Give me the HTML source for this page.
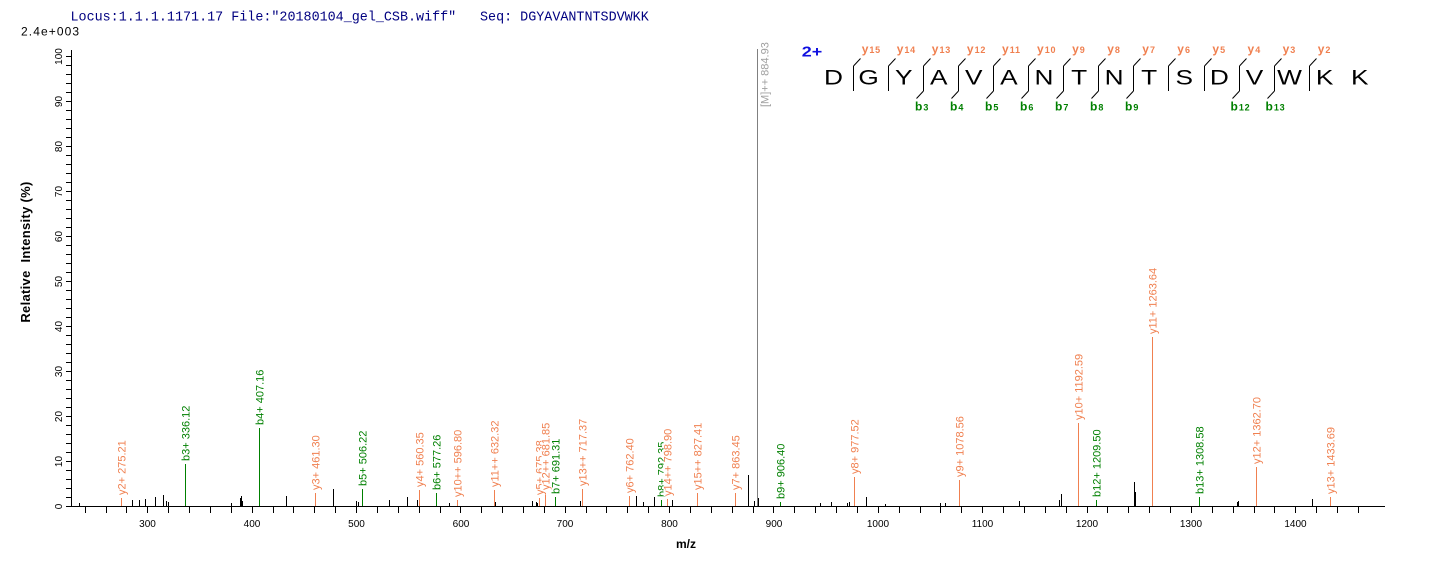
<!DOCTYPE html>
<html>
<head>
<meta charset="utf-8">
<style>
html,body{margin:0;padding:0;background:#fff;}
svg{display:block;}
</style>
</head>
<body>
<svg width="1436" height="566" viewBox="0 0 1436 566" xmlns="http://www.w3.org/2000/svg" font-family="'Liberation Sans', Arial, sans-serif">
<rect width="1436" height="566" fill="#fff"/>

<!-- header -->
<text x="70.5" y="20.5" font-family="'Liberation Mono', monospace" font-size="13.4" fill="#000080">Locus:1.1.1.1171.17 File:"20180104_gel_CSB.wiff"</text>
<text x="480" y="20.5" font-family="'Liberation Mono', monospace" font-size="13.4" fill="#000080">Seq: DGYAVANTNTSDVWKK</text>
<text x="21" y="35.3" font-size="12" letter-spacing="1.1" fill="#000">2.4e+003</text>

<!-- axes -->
<g stroke="#000" stroke-width="1" fill="none" shape-rendering="crispEdges">
<path d="M71.5 50V507M71 506.5H1385"/>
<path d="M66 506.5h5M66 497.5h5M66 488.5h5M66 479.5h5M66 470.5h5M66 461.5h5M66 452.5h5M66 443.5h5M66 434.5h5M66 425.5h5M66 416.5h5M66 407.5h5M66 398.5h5M66 389.5h5M66 380.5h5M66 371.5h5M66 362.5h5M66 353.5h5M66 344.5h5M66 335.5h5M66 326.5h5M66 317.5h5M66 308.5h5M66 299.5h5M66 290.5h5M66 281.5h5M66 272.5h5M66 263.5h5M66 254.5h5M66 245.5h5M66 236.5h5M66 227.5h5M66 218.5h5M66 209.5h5M66 200.5h5M66 191.5h5M66 182.5h5M66 173.5h5M66 164.5h5M66 155.5h5M66 146.5h5M66 137.5h5M66 128.5h5M66 119.5h5M66 110.5h5M66 101.5h5M66 92.5h5M66 83.5h5M66 74.5h5M66 65.5h5M66 56.5h5"/>
<path d="M85.5 507v6M106.5 507v6M126.5 507v6M147.5 507v6M168.5 507v6M189.5 507v6M210.5 507v6M231.5 507v6M252.5 507v6M273.5 507v6M293.5 507v6M314.5 507v6M335.5 507v6M356.5 507v6M377.5 507v6M398.5 507v6M419.5 507v6M440.5 507v6M460.5 507v6M481.5 507v6M502.5 507v6M523.5 507v6M544.5 507v6M565.5 507v6M586.5 507v6M606.5 507v6M627.5 507v6M648.5 507v6M669.5 507v6M690.5 507v6M711.5 507v6M732.5 507v6M753.5 507v6M773.5 507v6M794.5 507v6M815.5 507v6M836.5 507v6M857.5 507v6M878.5 507v6M899.5 507v6M920.5 507v6M940.5 507v6M961.5 507v6M982.5 507v6M1003.5 507v6M1024.5 507v6M1045.5 507v6M1066.5 507v6M1087.5 507v6M1107.5 507v6M1128.5 507v6M1149.5 507v6M1170.5 507v6M1191.5 507v6M1212.5 507v6M1233.5 507v6M1254.5 507v6M1274.5 507v6M1295.5 507v6M1316.5 507v6M1337.5 507v6M1358.5 507v6"/>
</g>

<!-- x tick labels -->
<g font-size="10" fill="#000" text-anchor="middle">
<text x="147.5" y="527">300</text>
<text x="252" y="527">400</text>
<text x="356.5" y="527">500</text>
<text x="461" y="527">600</text>
<text x="565" y="527">700</text>
<text x="669.5" y="527">800</text>
<text x="774" y="527">900</text>
<text x="878" y="527">1000</text>
<text x="982.5" y="527">1100</text>
<text x="1087" y="527">1200</text>
<text x="1191" y="527">1300</text>
<text x="1295.5" y="527">1400</text>
</g>

<!-- y tick labels -->
<g font-size="10" fill="#000" text-anchor="middle">
<text transform="translate(62,506.5) rotate(-90)">0</text>
<text transform="translate(62,461.5) rotate(-90)">10</text>
<text transform="translate(62,416.5) rotate(-90)">20</text>
<text transform="translate(62,371.5) rotate(-90)">30</text>
<text transform="translate(62,326.5) rotate(-90)">40</text>
<text transform="translate(62,281.5) rotate(-90)">50</text>
<text transform="translate(62,236.5) rotate(-90)">60</text>
<text transform="translate(62,191.5) rotate(-90)">70</text>
<text transform="translate(62,146.5) rotate(-90)">80</text>
<text transform="translate(62,101.5) rotate(-90)">90</text>
<text transform="translate(62,56.5) rotate(-90)">100</text>
</g>

<text transform="translate(30,252) rotate(-90)" font-size="13" font-weight="bold" letter-spacing="0.3" text-anchor="middle" fill="#000" xml:space="preserve">Relative  Intensity (%)</text>
<text x="686" y="548" font-size="12" font-weight="bold" text-anchor="middle" fill="#000">m/z</text>

<!-- noise peaks -->
<g stroke="#000" stroke-width="1" shape-rendering="crispEdges">
<path d="M79.5 506V503M132.5 506V500M139.5 506V500M145.5 506V499M155.5 506V497M163.5 506V495M166.5 506V501M168.5 506V502M231.5 506V503M240.5 506V498M241.5 506V496M242.5 506V501M286.5 506V496M333.5 506V489M356.5 506V501M358.5 506V502M389.5 506V500M407.5 506V497M417.5 506V500M449.5 506V503M495.5 506V502M532.5 506V501M536.5 506V502M537.5 506V503M580.5 506V501M636.5 506V496M643.5 506V502M654.5 506V497M672.5 506V500M748.5 506V475M754.5 506V501M758.5 506V498M820.5 506V503M831.5 506V502M847.5 506V503M849.5 506V502M866.5 506V497M885.5 506V504M940.5 506V503M945.5 506V503M1019.5 506V501M1059.5 506V500M1061.5 506V494M1134.5 506V482M1135.5 506V492M1237.5 506V502M1238.5 506V501M1312.5 506V499"/>
</g>

<!-- [M]++ -->
<path d="M757.5 506V49" stroke="#808080" stroke-width="1" shape-rendering="crispEdges"/>
<text transform="translate(768.5,107) rotate(-90)" font-size="11" fill="#a0a0a0">[M]++ 884.93</text>

<!-- y ion peaks -->
<g stroke="#f08050" stroke-width="1" shape-rendering="crispEdges">
<path d="M121.5 506V498M315.5 506V493M419.5 506V490M457.5 506V500M494.5 506V490M539.5 506V498M545.5 506V493M582.5 506V489M629.5 506V496M667.5 506V499M697.5 506V493M735.5 506V493M854.5 506V477M959.5 506V480M1078.5 506V423M1152.5 506V337M1256.5 506V467M1330.5 506V497"/>
</g>
<!-- b ion peaks -->
<g stroke="#008000" stroke-width="1" shape-rendering="crispEdges">
<path d="M185.5 506V464M259.5 506V428M362.5 506V489M436.5 506V493M555.5 506V497M661.5 506V500M780.5 506V502M1096.5 506V500M1199.5 506V497"/>
</g>

<!-- peak labels -->
<g font-size="11">
<rect x="117.5" y="435" width="10" height="60" fill="#fff"/><text transform="translate(125.5,495) rotate(-90)" fill="#f08050">y2+ 275.21</text>
<rect x="181.5" y="401" width="10" height="60" fill="#fff"/><text transform="translate(189.5,461) rotate(-90)" fill="#008000">b3+ 336.12</text>
<rect x="255.5" y="365" width="10" height="60" fill="#fff"/><text transform="translate(263.5,425) rotate(-90)" fill="#008000">b4+ 407.16</text>
<rect x="311.5" y="430" width="10" height="60" fill="#fff"/><text transform="translate(319.5,490) rotate(-90)" fill="#f08050">y3+ 461.30</text>
<rect x="358.5" y="426" width="10" height="60" fill="#fff"/><text transform="translate(366.5,486) rotate(-90)" fill="#008000">b5+ 506.22</text>
<rect x="415.5" y="427" width="10" height="60" fill="#fff"/><text transform="translate(423.5,487) rotate(-90)" fill="#f08050">y4+ 560.35</text>
<rect x="432.5" y="430" width="10" height="60" fill="#fff"/><text transform="translate(440.5,490) rotate(-90)" fill="#008000">b6+ 577.26</text>
<rect x="453.5" y="425" width="10" height="72" fill="#fff"/><text transform="translate(461.5,497) rotate(-90)" fill="#f08050">y10++ 596.80</text>
<rect x="490.5" y="415" width="10" height="72" fill="#fff"/><text transform="translate(498.5,487) rotate(-90)" fill="#f08050">y11++ 632.32</text>
<rect x="535.5" y="435" width="10" height="60" fill="#fff"/><text transform="translate(543.5,495) rotate(-90)" fill="#f08050">y5+ 675.38</text>
<rect x="541.5" y="418" width="10" height="72" fill="#fff"/><text transform="translate(549.5,490) rotate(-90)" fill="#f08050">y12++ 681.85</text>
<rect x="551.5" y="434" width="10" height="60" fill="#fff"/><text transform="translate(559.5,494) rotate(-90)" fill="#008000">b7+ 691.31</text>
<rect x="578.5" y="414" width="10" height="72" fill="#fff"/><text transform="translate(586.5,486) rotate(-90)" fill="#f08050">y13++ 717.37</text>
<rect x="625.5" y="433" width="10" height="60" fill="#fff"/><text transform="translate(633.5,493) rotate(-90)" fill="#f08050">y6+ 762.40</text>
<rect x="657.5" y="437" width="10" height="60" fill="#fff"/><text transform="translate(665.5,497) rotate(-90)" fill="#008000">b8+ 792.35</text>
<rect x="663.5" y="424" width="10" height="72" fill="#fff"/><text transform="translate(671.5,496) rotate(-90)" fill="#f08050">y14++ 798.90</text>
<rect x="693.5" y="418" width="10" height="72" fill="#fff"/><text transform="translate(701.5,490) rotate(-90)" fill="#f08050">y15++ 827.41</text>
<rect x="731.5" y="430" width="10" height="60" fill="#fff"/><text transform="translate(739.5,490) rotate(-90)" fill="#f08050">y7+ 863.45</text>
<rect x="776.5" y="439" width="10" height="60" fill="#fff"/><text transform="translate(784.5,499) rotate(-90)" fill="#008000">b9+ 906.40</text>
<rect x="850.5" y="414" width="10" height="60" fill="#fff"/><text transform="translate(858.5,474) rotate(-90)" fill="#f08050">y8+ 977.52</text>
<rect x="955.5" y="411" width="10" height="66" fill="#fff"/><text transform="translate(963.5,477) rotate(-90)" fill="#f08050">y9+ 1078.56</text>
<rect x="1074.5" y="348" width="10" height="72" fill="#fff"/><text transform="translate(1082.5,420) rotate(-90)" fill="#f08050">y10+ 1192.59</text>
<rect x="1092.5" y="425" width="10" height="72" fill="#fff"/><text transform="translate(1100.5,497) rotate(-90)" fill="#008000">b12+ 1209.50</text>
<rect x="1148.5" y="262" width="10" height="72" fill="#fff"/><text transform="translate(1156.5,334) rotate(-90)" fill="#f08050">y11+ 1263.64</text>
<rect x="1195.5" y="422" width="10" height="72" fill="#fff"/><text transform="translate(1203.5,494) rotate(-90)" fill="#008000">b13+ 1308.58</text>
<rect x="1252.5" y="392" width="10" height="72" fill="#fff"/><text transform="translate(1260.5,464) rotate(-90)" fill="#f08050">y12+ 1362.70</text>
<rect x="1326.5" y="422" width="10" height="72" fill="#fff"/><text transform="translate(1334.5,494) rotate(-90)" fill="#f08050">y13+ 1433.69</text>
</g>

<!-- sequence diagram -->
<g transform="translate(801.7,56.3) scale(1.2,1)"><text font-size="15" font-weight="bold" fill="#1010e0">2+</text></g>

<g font-size="21" fill="#000" text-anchor="middle">
<g transform="translate(833.5,84.7) scale(1.25,1)"><text>D</text></g>
<g transform="translate(868.6,84.7) scale(1.25,1)"><text>G</text></g>
<g transform="translate(903.7,84.7) scale(1.25,1)"><text>Y</text></g>
<g transform="translate(938.7,84.7) scale(1.25,1)"><text>A</text></g>
<g transform="translate(973.8,84.7) scale(1.25,1)"><text>V</text></g>
<g transform="translate(1008.9,84.7) scale(1.25,1)"><text>A</text></g>
<g transform="translate(1044,84.7) scale(1.25,1)"><text>N</text></g>
<g transform="translate(1079.1,84.7) scale(1.25,1)"><text>T</text></g>
<g transform="translate(1114.1,84.7) scale(1.25,1)"><text>N</text></g>
<g transform="translate(1149.2,84.7) scale(1.25,1)"><text>T</text></g>
<g transform="translate(1184.3,84.7) scale(1.25,1)"><text>S</text></g>
<g transform="translate(1219.4,84.7) scale(1.25,1)"><text>D</text></g>
<g transform="translate(1254.5,84.7) scale(1.25,1)"><text>V</text></g>
<g transform="translate(1289.5,84.7) scale(1.25,1)"><text>W</text></g>
<g transform="translate(1324.6,84.7) scale(1.25,1)"><text>K</text></g>
<g transform="translate(1359.7,84.7) scale(1.25,1)"><text>K</text></g>
</g>

<g stroke="#000" stroke-width="1" fill="none">
<path d="M853.5 66V91M853.5 66l7 -7.5"/>
<path d="M888.5 66V91M888.5 66l7 -7.5"/>
<path d="M923.5 66V91M923.5 66l7 -7.5M923.5 91l-7 7.5"/>
<path d="M958.5 66V91M958.5 66l7 -7.5M958.5 91l-7 7.5"/>
<path d="M993.5 66V91M993.5 66l7 -7.5M993.5 91l-7 7.5"/>
<path d="M1028.5 66V91M1028.5 66l7 -7.5M1028.5 91l-7 7.5"/>
<path d="M1063.5 66V91M1063.5 66l7 -7.5M1063.5 91l-7 7.5"/>
<path d="M1098.5 66V91M1098.5 66l7 -7.5M1098.5 91l-7 7.5"/>
<path d="M1133.5 66V91M1133.5 66l7 -7.5M1133.5 91l-7 7.5"/>
<path d="M1168.5 66V91M1168.5 66l7 -7.5"/>
<path d="M1204.5 66V91M1204.5 66l7 -7.5"/>
<path d="M1239.5 66V91M1239.5 66l7 -7.5M1239.5 91l-7 7.5"/>
<path d="M1274.5 66V91M1274.5 66l7 -7.5M1274.5 91l-7 7.5"/>
<path d="M1309.5 66V91M1309.5 66l7 -7.5"/>
</g>

<!-- y labels -->
<g fill="#f08050" font-weight="bold">
<text x="861.7" y="53" font-size="12">y<tspan font-size="9" letter-spacing="0.8" dx="1">15</tspan></text>
<text x="896.7" y="53" font-size="12">y<tspan font-size="9" letter-spacing="0.8" dx="1">14</tspan></text>
<text x="931.8" y="53" font-size="12">y<tspan font-size="9" letter-spacing="0.8" dx="1">13</tspan></text>
<text x="966.9" y="53" font-size="12">y<tspan font-size="9" letter-spacing="0.8" dx="1">12</tspan></text>
<text x="1002" y="53" font-size="12">y<tspan font-size="9" letter-spacing="0.8" dx="1">11</tspan></text>
<text x="1037" y="53" font-size="12">y<tspan font-size="9" letter-spacing="0.8" dx="1">10</tspan></text>
<text x="1072.1" y="53" font-size="12">y<tspan font-size="9" dx="1">9</tspan></text>
<text x="1107.2" y="53" font-size="12">y<tspan font-size="9" dx="1">8</tspan></text>
<text x="1142.3" y="53" font-size="12">y<tspan font-size="9" dx="1">7</tspan></text>
<text x="1177.3" y="53" font-size="12">y<tspan font-size="9" dx="1">6</tspan></text>
<text x="1212.4" y="53" font-size="12">y<tspan font-size="9" dx="1">5</tspan></text>
<text x="1247.5" y="53" font-size="12">y<tspan font-size="9" dx="1">4</tspan></text>
<text x="1282.6" y="53" font-size="12">y<tspan font-size="9" dx="1">3</tspan></text>
<text x="1317.7" y="53" font-size="12">y<tspan font-size="9" dx="1">2</tspan></text>
</g>

<!-- b labels -->
<g fill="#008000" font-weight="bold">
<text x="915" y="110.7" font-size="12">b<tspan font-size="9" dx="1">3</tspan></text>
<text x="950" y="110.7" font-size="12">b<tspan font-size="9" dx="1">4</tspan></text>
<text x="985" y="110.7" font-size="12">b<tspan font-size="9" dx="1">5</tspan></text>
<text x="1020" y="110.7" font-size="12">b<tspan font-size="9" dx="1">6</tspan></text>
<text x="1055" y="110.7" font-size="12">b<tspan font-size="9" dx="1">7</tspan></text>
<text x="1090" y="110.7" font-size="12">b<tspan font-size="9" dx="1">8</tspan></text>
<text x="1125" y="110.7" font-size="12">b<tspan font-size="9" dx="1">9</tspan></text>
<text x="1230.5" y="110.7" font-size="12">b<tspan font-size="9" letter-spacing="0.8" dx="1">12</tspan></text>
<text x="1265.5" y="110.7" font-size="12">b<tspan font-size="9" letter-spacing="0.8" dx="1">13</tspan></text>
</g>
</svg>
</body>
</html>
